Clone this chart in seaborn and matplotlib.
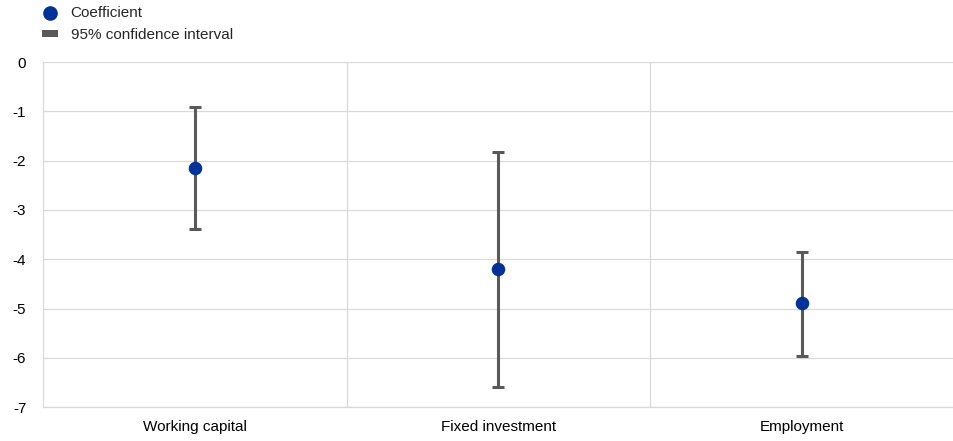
import numpy as np
import pandas as pd
import matplotlib
matplotlib.use("Agg")
import matplotlib.pyplot as plt
import seaborn as sns
from matplotlib.lines import Line2D
from matplotlib.patches import Patch

categories = ["Working capital", "Fixed investment", "Employment"]
coefficient = [-2.15, -4.20, -4.89]
ci_upper = [-0.91, -1.83, -3.85]
ci_lower = [-3.39, -6.59, -5.96]

df = pd.DataFrame({"category": categories, "coef": coefficient,
                   "upper": ci_upper, "lower": ci_lower})

sns.set_style("white")
plt.rcParams["font.family"] = ["Liberation Sans", "DejaVu Sans"]
plt.rcParams["axes.unicode_minus"] = False

fig = plt.figure(figsize=(9.54, 4.41), dpi=100)
ax = fig.add_axes([0.045, 0.077, 0.955, 0.782])

blue = "#003299"
grey = "#595959"

pos = np.arange(len(df))
ax.errorbar(pos, df["coef"],
            yerr=[df["coef"] - df["lower"], df["upper"] - df["coef"]],
            fmt="none", ecolor=grey, elinewidth=2.2, capsize=4.5, capthick=2.2, zorder=2)
sns.scatterplot(data=df, x="category", y="coef", color=blue, s=95,
                edgecolor=blue, linewidth=0, ax=ax, zorder=3, legend=False)

ax.set_xlim(-0.5, 2.5)
ax.set_ylim(-7, 0)
ax.set_yticks(range(-7, 1))
ax.set_xticks(pos)
ax.set_xticklabels(categories)
ax.set_xticks([0.5, 1.5], minor=True)
ax.grid(axis="y", color="#d9d9d9", linewidth=0.9)
ax.grid(axis="x", which="minor", color="#d9d9d9", linewidth=0.9)
ax.grid(axis="x", which="major", visible=False)
ax.set_axisbelow(True)
ax.set_xlabel("")
ax.set_ylabel("")
for side in ["top", "right"]:
    ax.spines[side].set_visible(False)
for side in ["left", "bottom"]:
    ax.spines[side].set_color("#d9d9d9")
    ax.spines[side].set_linewidth(0.9)
ax.tick_params(axis="both", which="both", length=0, labelsize=11, colors="black")
ax.tick_params(axis="y", pad=12)
ax.tick_params(axis="x", pad=9)

handles = [
    Line2D([], [], marker="o", linestyle="none", color=blue, markersize=9.5),
    Patch(facecolor=grey, edgecolor="none"),
]
leg = fig.legend(handles, ["Coefficient", "95% confidence interval"],
                 loc="upper left", bbox_to_anchor=(0.030, 1.017), frameon=False,
                 fontsize=11, handlelength=1.0, handleheight=0.3,
                 handletextpad=0.85, labelspacing=0.5)

fig.savefig("out.png", dpi=100)
